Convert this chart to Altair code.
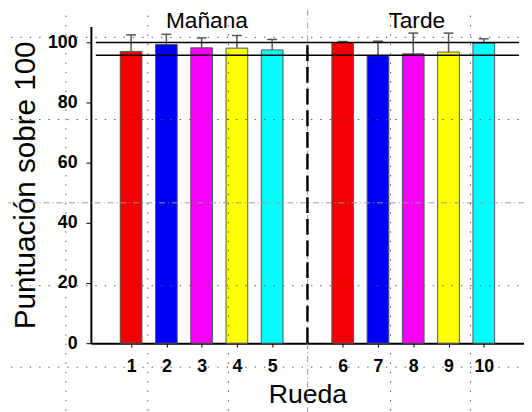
import altair as alt
import pandas as pd

# Data
slots = [1, 2, 3, 4, 5, 7, 8, 9, 10, 11]
labels = ["1", "2", "3", "4", "5", "6", "7", "8", "9", "10"]
values = [97.0, 99.3, 98.2, 98.1, 97.5, 99.9, 95.6, 96.2, 96.8, 99.8]
errors = [5.5, 3.4, 3.3, 4.2, 3.5, 0.4, 4.8, 6.9, 6.3, 1.4]
colors = ["#f20000", "#0000f2", "#f800f8", "#ffff00", "#00ffff",
          "#f20000", "#0000f2", "#f800f8", "#ffff00", "#00ffff"]
ref_levels = [100, 95.7]
divider_slot = 6
group_names = ["Mañana", "Tarde"]
group_pos = [3.15, 9.1]
# slide guide lines (pixel positions relative to plot origin)
guide_y = [11, 94.3, 262.7, 345.3]
guide_y_mid = [178.7]
guide_x = [-25.3, 57.7, 139.4, 303.7, 384.7]
guide_x_mid = [219.7]

df = pd.DataFrame({"slot": slots, "label": labels, "value": values,
                   "err": errors, "color": colors})
df["top"] = df["value"] + df["err"]

label_map = "{" + ",".join(f"'{s}':'{l}'" for s, l in zip(slots, labels)) + "}"

xscale = alt.Scale(domain=[0, 12], nice=False, zero=False)
yscale = alt.Scale(domain=[0, 105.3], nice=False)

x_enc = alt.X("slot:Q", scale=xscale, axis=alt.Axis(
    values=slots, labelExpr=f"{label_map}[datum.value]", title="Rueda",
    grid=False, domainColor="black", domainWidth=2, tickColor="black",
    tickSize=4, tickWidth=1, labelPadding=11, labelFont="Liberation Sans",
    labelFontWeight="bold", labelFontSize=18, labelColor="black",
    titleFont="Liberation Sans", titleFontSize=27, titleFontWeight="normal",
    titleColor="black", titlePadding=6))
y_enc = alt.Y("value:Q", scale=yscale, axis=alt.Axis(
    values=[0, 20, 40, 60, 80, 100], title="Puntuación sobre 100",
    grid=False, domainColor="black", domainWidth=2, tickColor="black",
    tickSize=5, tickWidth=1, labelPadding=9, labelFont="Liberation Sans",
    labelFontWeight="bold", labelFontSize=18, labelColor="black",
    titleFont="Liberation Sans", titleFontSize=30, titleFontWeight="normal",
    titleColor="black", titlePadding=7))

base = alt.Chart(df)

bars = base.mark_bar(size=22, stroke="#555555", strokeWidth=1).encode(
    x=x_enc, y=y_enc, color=alt.Color("color:N", scale=None))

err_line = base.mark_rule(color="#555555", strokeWidth=1.5).encode(
    x="slot:Q", y="value:Q", y2="top:Q")
err_cap = base.mark_rule(color="#555555", strokeWidth=1.5, xOffset=-5, x2Offset=5).encode(
    x="slot:Q", x2="slot:Q", y="top:Q")

ref_df = pd.DataFrame({"level": ref_levels, "x0": [0] * len(ref_levels), "x1": [12] * len(ref_levels)})
refs = alt.Chart(ref_df).mark_rule(color="black", strokeWidth=1.5).encode(
    y=alt.Y("level:Q", scale=yscale), x=alt.X("x0:Q", scale=xscale), x2="x1:Q")

div_df = pd.DataFrame({"slot": [divider_slot], "y0": [0], "y1": [100]})
divider = alt.Chart(div_df).mark_rule(color="black", strokeWidth=2.5, strokeDash=[16, 6]).encode(
    x=alt.X("slot:Q", scale=xscale), y=alt.Y("y0:Q", scale=yscale), y2="y1:Q")

grp_df = pd.DataFrame({"name": group_names, "pos": group_pos})
groups = alt.Chart(grp_df).mark_text(font="Liberation Sans", fontSize=23, color="black",
                                     baseline="middle", align="center").encode(
    x=alt.X("pos:Q", scale=xscale), y=alt.value(-5), text="name:N")

gy = alt.Chart(pd.DataFrame({"gy": guide_y})).mark_rule(
    color="#555555", strokeWidth=1, strokeDash=[1.5, 8]).encode(
    y=alt.Y("gy:Q", scale=None), x=alt.value(-100), x2=alt.value(460))
gx = alt.Chart(pd.DataFrame({"gx": guide_x})).mark_rule(
    color="#555555", strokeWidth=1, strokeDash=[1.5, 8]).encode(
    x=alt.X("gx:Q", scale=None), y=alt.value(-30), y2=alt.value(400))
gym = alt.Chart(pd.DataFrame({"gy": guide_y_mid})).mark_rule(
    color="#999999", strokeWidth=1, strokeDash=[6, 3, 1, 3]).encode(
    y=alt.Y("gy:Q", scale=None), x=alt.value(-100), x2=alt.value(460))
gxm = alt.Chart(pd.DataFrame({"gx": guide_x_mid})).mark_rule(
    color="#999999", strokeWidth=1, strokeDash=[6, 3, 1, 3]).encode(
    x=alt.X("gx:Q", scale=None), y=alt.value(-30), y2=alt.value(400))

chart = alt.layer(bars, gy, gx, gym, gxm, err_line, err_cap, refs, divider, groups).properties(
    width=439, height=321,
    autosize=alt.AutoSizeParams(type="none"),
    padding={"left": 84, "top": 16, "right": 0, "bottom": 67},
    background="white",
).configure_view(stroke=None)

chart.save("out.html", embed_options={"renderer": "svg", "actions": False})
